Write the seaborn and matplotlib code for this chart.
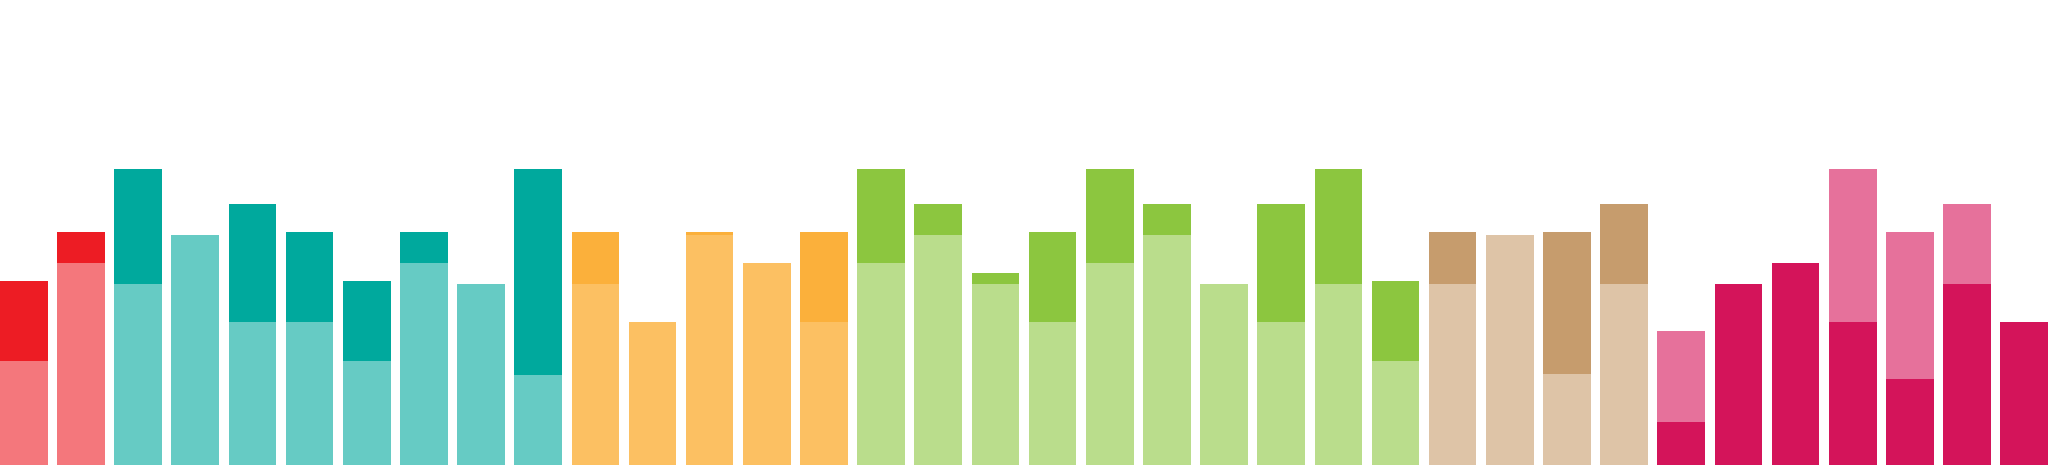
import pandas as pd
import matplotlib
matplotlib.use("Agg")
import matplotlib.pyplot as plt
import seaborn as sns

# Dados (altura em unidades de pixel a partir da base)
barras = [f"B{i:02d}" for i in range(1, 37)]
grupos = (["vermelho"] * 2 + ["verde_agua"] * 8 + ["laranja"] * 5
          + ["verde"] * 10 + ["bege"] * 4 + ["rosa"] * 7)

base = [104, 202, 181, 230, 143, 143, 104, 202, 181, 90,
        181, 143, 230, 202, 143,
        202, 230, 181, 143, 202, 230, 181, 143, 181, 104,
        181, 230, 91, 181,
        43, 181, 202, 143, 86, 181, 143]
topo = [80, 31, 115, 0, 118, 90, 80, 31, 0, 206,
        52, 0, 3, 0, 90,
        94, 31, 11, 90, 94, 31, 0, 118, 115, 80,
        52, 0, 142, 80,
        91, 0, 0, 153, 147, 80, 0]

# cor do segmento de baixo / de cima por grupo
cor_base = {"vermelho": "#F4777C", "verde_agua": "#66CBC4", "laranja": "#FCC062",
            "verde": "#BADD8C", "bege": "#DEC4A7", "rosa": "#D4145A"}
cor_topo = {"vermelho": "#ED1C24", "verde_agua": "#00A99D", "laranja": "#FBB03B",
            "verde": "#8CC63F", "bege": "#C69C6D", "rosa": "#E6719B"}

df = pd.DataFrame({"barra": barras, "grupo": grupos, "base": base, "topo": topo})
df["total"] = df["base"] + df["topo"]

pal_topo = {b: cor_topo[g] for b, g in zip(df["barra"], df["grupo"])}
pal_base = {b: cor_base[g] for b, g in zip(df["barra"], df["grupo"])}

largura = 0.834

fig = plt.figure(figsize=(20.48, 4.65), dpi=100)
ax = fig.add_axes([0, 0, 1, 1])

# barra inteira com a cor de cima, depois a parte de baixo por cima
sns.barplot(data=df, x="barra", y="total", hue="barra", palette=pal_topo,
            legend=False, width=largura, linewidth=0, saturation=1, ax=ax)
sns.barplot(data=df, x="barra", y="base", hue="barra", palette=pal_base,
            legend=False, width=largura, linewidth=0, saturation=1, ax=ax)

ax.set_xlim(-largura / 2, len(barras) - 1 + largura / 2)
ax.set_ylim(0, 465)
ax.axis("off")

fig.savefig("out.png", dpi=100, facecolor="white")
